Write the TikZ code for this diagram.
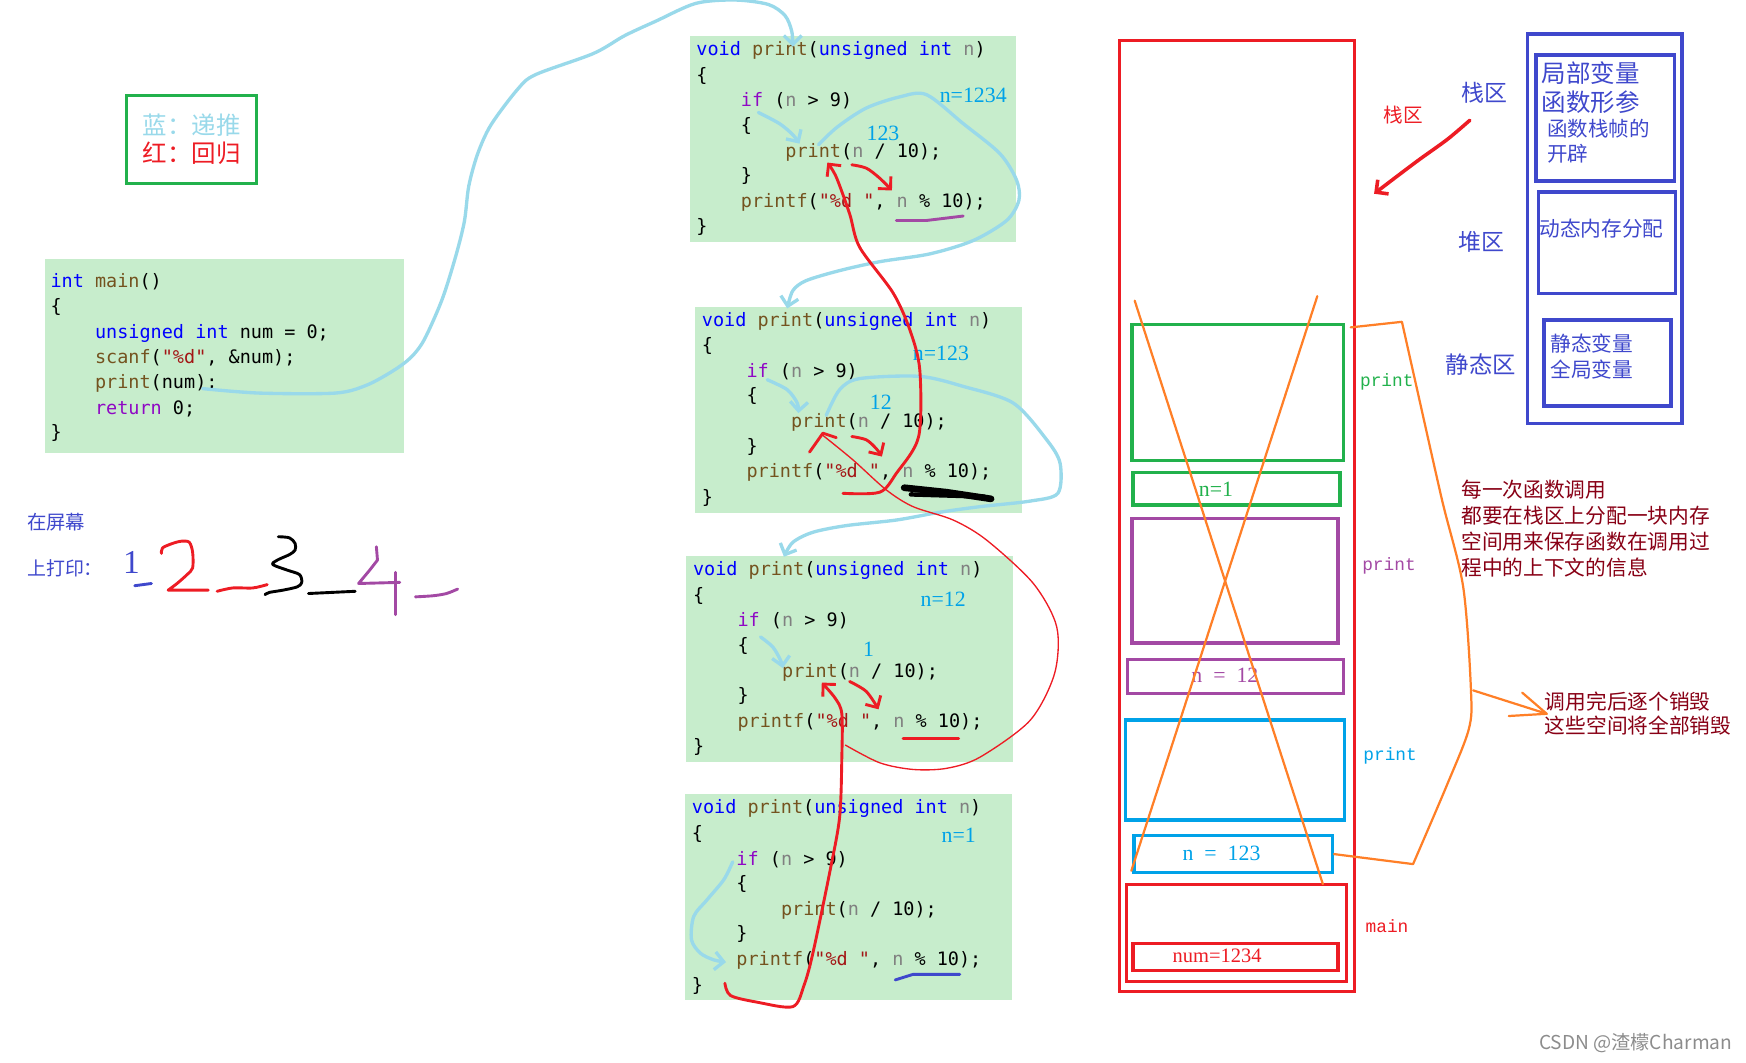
\documentclass[tikz,border=0pt]{standalone}
\usepackage{fontspec}
\setmainfont{Liberation Serif}
\setmonofont{DejaVu Sans Mono}
\newfontfamily\cjk{Noto Sans CJK SC}
\newfontfamily\stackmono{Liberation Mono}
\usetikzlibrary{arrows.meta}

% editor colours
\definecolor{codebg}{RGB}{199,237,204}
\definecolor{kwblue}{RGB}{0,0,255}
\definecolor{fnbrown}{RGB}{116,83,31}
\definecolor{pargray}{RGB}{128,128,128}
\definecolor{strred}{RGB}{163,21,21}
\definecolor{ctlpurple}{RGB}{143,8,196}
% paint colours
\definecolor{skyline}{RGB}{153,217,234}
\definecolor{nblue}{RGB}{0,162,232}
\definecolor{pred}{RGB}{237,28,36}
\definecolor{pgreen}{RGB}{34,177,76}
\definecolor{ppurple}{RGB}{163,73,164}
\definecolor{porange}{RGB}{255,127,39}
\definecolor{pindigo}{RGB}{63,72,204}
\definecolor{pdarkred}{RGB}{136,0,21}

\newcommand{\codefont}{\fontsize{8.3}{10}\ttfamily}
\newcommand{\cKw}[1]{\textcolor{kwblue}{#1}}
\newcommand{\cFn}[1]{\textcolor{fnbrown}{#1}}
\newcommand{\cPar}[1]{\textcolor{pargray}{#1}}
\newcommand{\cStr}[1]{\textcolor{strred}{#1}}
\newcommand{\cCtl}[1]{\textcolor{ctlpurple}{#1}}

\tikzset{
  codebox/.style={fill=codebg, inner sep=0pt, anchor=north west},
  code/.style={font=\codefont, inner sep=0pt, anchor=base west},
  nlabel/.style={font=\fontsize{9.8}{11}\selectfont, text=nblue, inner sep=0pt},
  skystroke/.style={draw=skyline, line width=1.5pt, line cap=round, line join=round},
  redstroke/.style={draw=pred, line width=1.3pt, line cap=round, line join=round},
  thinred/.style={draw=pred, line width=0.6pt},
  barb/.style={-{Straight Barb[length=4pt,width=8pt]}},
  frame/.style={draw, line width=1.5pt, inner sep=0pt, anchor=north west},
  vallabel/.style={font=\fontsize{9.8}{11}\selectfont, inner sep=0pt},
  slot/.style={font=\stackmono\fontsize{8}{10}\selectfont, inner sep=0pt, anchor=west},
  cjknote/.style={font=\cjk\fontsize{9.3}{11.7}\selectfont, inner sep=0pt, anchor=west, align=left},
  orangeline/.style={draw=porange, line width=1pt, line cap=round, line join=round},
  digit/.style={line width=1.3pt, line cap=round, line join=round},
}

\begin{document}
\begin{tikzpicture}[x=0.5pt,y=-0.5pt]
  \useasboundingbox (0,0) rectangle (1568,954);

  % Legend
  \node[draw=pgreen, line width=1.5pt, anchor=north west, minimum width=58.5pt,
        minimum height=39.5pt, inner sep=0pt] (legend) at (112,84) {};
  \node[font=\cjk\fontsize{11}{13}\selectfont, inner sep=0pt, align=left] (legendtext)
       at (legend.center) {\textcolor{skyline}{蓝：递推}\\\textcolor{pred}{红：回归}};

  % main()
  \node[codebox, minimum width=161pt, minimum height=87pt] (mainframe) at (40,232) {};
  \node[code] (mainhead) at (45,258) {\cKw{int} \cFn{main}()};
  \node[code] (mainopen) at (45,281) {\{};
  \node[code] (maindecl) at (85,304) {\cKw{unsigned} \cKw{int} num = 0;};
  \node[code] (mainscan) at (85,326) {\cFn{scanf}(\cStr{"\%d"}, \&num);};
  \node[code] (maincall) at (85,349) {\cFn{print}(num);};
  \node[code] (mainret) at (85,372) {\cCtl{return} 0;};
  \node[code] (mainclose) at (45,394) {\}};

  % The four frames of print(), top to bottom
  \foreach \n/\bx/\by in {1/619/32, 2/624/275, 3/616/499, 4/615/713}{
    \node[codebox, minimum width=146.5pt, minimum height=92.5pt] (frame\n) at (\bx,\by) {};
    \node[code] (head\n) at (\bx+6,\by+18) {\cKw{void} \cFn{print}(\cKw{unsigned} \cKw{int} \cPar{n})};
    \node[code] (open\n) at (\bx+6,\by+41) {\{};
    \node[code] (test\n) at (\bx+46,\by+64) {\cCtl{if} (\cPar{n} > 9)};
    \node[code] (inopen\n) at (\bx+46,\by+86) {\{};
    \node[code] (call\n) at (\bx+86,\by+109) {\cFn{print}(\cPar{n} / 10);};
    \node[code] (inclose\n) at (\bx+46,\by+131) {\}};
    \node[code] (out\n) at (\bx+46,\by+154) {\cFn{printf}(\cStr{"\%d "}, \cPar{n} \% 10);};
    \node[code] (close\n) at (\bx+6,\by+177) {\}};
  }

  % value of n in each frame, and the value handed on
  \foreach \n/\lx/\ly/\txt in {1/874/86/n=1234, 2/845/317/n=123, 3/847/538/n=12, 4/861/750/n=1}{
    \node[nlabel] (nval\n) at (\lx,\ly) {\txt};
  }
  \foreach \n/\lx/\ly/\txt in {1/793/120/123, 2/791/361/12, 3/780/583/1}{
    \node[nlabel] (quot\n) at (\lx,\ly) {\txt};
  }

  % blue: going down
  \draw[skystroke, barb] plot[smooth] coordinates {(182,349) (233,353) (301,353) (329,346)
    (353,333) (369,321) (381,305) (397,269) (409,231) (417,199) (421,167) (429,138)
    (441,112) (465,80) (481,67) (533,48) (561,32) (589,19) (625,3) (660,0) (690,4)
    (705,14) (711,28) (712,42)};
  \draw[skystroke, barb] plot[smooth] coordinates {(681,101) (700,111) (712,121) (718,129)};
  \draw[skystroke, barb] plot[smooth] coordinates {(735,130) (752,114) (778,97) (808,87)
    (832,85) (865,111) (898,138) (913,162) (915,180) (904,198) (874,216) (835,228)
    (790,235) (754,243) (724,252) (712,261) (707,277)};
  \draw[skystroke, barb] plot[smooth] coordinates {(689,341) (707,350) (716,362) (717,371)};
  \draw[skystroke, barb] plot[smooth] coordinates {(742,373) (754,350) (772,340) (826,338)
    (865,347) (910,362) (940,395) (952,416) (950,443) (925,450) (880,455) (844,460)
    (805,467) (760,472) (730,478) (712,487) (704,500)};
  \draw[skystroke, barb] plot[smooth] coordinates {(683,572) (694,581) (701,593) (703,600)};
  \draw[skystroke, barb] plot[smooth] coordinates {(658,774) (650,790) (635,808) (623,823)
    (621,844) (629,856) (641,862) (652,864)};

  % red: coming back
  \draw[redstroke, barb] plot[smooth] coordinates {(757,443) (790,442) (805,425) (825,392)
    (826,332) (817,296) (802,263) (772,222) (763,192) (751,159) (743,146)};
  \draw[redstroke, barb] plot[smooth] coordinates {(765,148) (778,151) (790,160) (801,171)};
  \draw[thinred] plot[smooth] coordinates {(759,669) (790,685) (820,691) (850,690) (880,680)
    (925,647) (947,605) (949,563) (928,524) (886,485) (856,467) (820,455) (796,440)
    (766,413) (739,391)};
  \draw[redstroke] (727,406) -- (739,389) -- (751,393);
  \draw[redstroke, barb] plot[smooth] coordinates {(765,392) (778,395) (787,403) (792,410)};
  \draw[redstroke, barb] plot[smooth] coordinates {(651,883) (656,894) (680,900) (712,904)
    (722,885) (730,856) (745,784) (754,734) (756,680) (756,641) (750,627) (738,613)};
  \draw[redstroke, barb] plot[smooth] coordinates {(763,612) (778,621) (789,637)};

  % underlined digits
  \draw[digit, ppurple] (805,198) -- (832,198) -- (865,194);
  \draw[line width=3pt, line cap=round] (812,438) -- (850,442) -- (890,448);
  \draw[line width=2pt, line cap=round] (818,444) -- (884,446);
  \draw[digit, pred] (811,663) -- (861,663);
  \draw[digit, pindigo] (804,880) -- (820,875) -- (862,875);

  % what appears on the screen
  \node[anchor=west, font=\cjk\fontsize{8.7}{11}\selectfont, text=pindigo, inner sep=0pt] (screen1) at (24,469) {在屏幕};
  \node[anchor=west, font=\cjk\fontsize{8.5}{11}\selectfont, text=pindigo, inner sep=0pt] (screen2) at (24,510) {上打印：};
  \node[font=\fontsize{15}{17}\selectfont, text=pindigo, inner sep=0pt] (one) at (118,505) {1};
  \draw[digit, pindigo] (121,526) -- (136,524);
  \draw[digit, pred] plot[smooth, tension=0.5] coordinates {(145,497) (146,492) (155,488)
    (163,486) (170,487) (173,496) (173,510) (168,516) (159,524) (151,530)} -- (187,530);
  \draw[digit, pred] plot[smooth] coordinates {(195,531) (209,528) (227,528) (240,525)};
  \draw[digit] plot[smooth, tension=0.5] coordinates {(250,482) (260,483) (265,488) (265,494)
    (260,498) (249,503) (245,507) (258,512) (269,516) (271,523) (267,527) (254,530)
    (242,532) (238,534)};
  \draw[digit] (277,533) -- (319,531);
  \draw[digit, ppurple] (338,491) -- (339,503) -- (332,512) -- (322,524) -- (359,523);
  \draw[digit, ppurple] (355,514) -- (355,552);
  \draw[digit, ppurple] plot[smooth] coordinates {(373,536) (389,535) (401,533) (411,529)};

  % Stack area
  \node[frame, draw=pred, minimum width=105.5pt, minimum height=427pt] (stack) at (1004,35) {};
  \foreach \name/\col/\fx/\fy/\fw/\fh in {fr1/pgreen/1015/290/95/61, fr1n/pgreen/1016/423/93/14.5,
      fr2/ppurple/1015/464/92.5/56, fr2n/ppurple/1011/591/97/15,
      fr3/nblue/1009/645/98.5/45, fr3n/nblue/1017/749/89/16.5,
      fr4/pred/1010/793/99/43.5, fr4n/pred/1016/846/92/12}{
    \node[frame, draw=\col, minimum width=\fw pt, minimum height=\fh pt] (\name) at (\fx,\fy) {};
  }
  \node[vallabel, text=pgreen] (v1) at (1092,439) {n=1};
  \node[vallabel, text=ppurple] (v2) at (1100,606) {n\enspace=\enspace12};
  \node[vallabel, text=nblue] (v3) at (1097,766) {n\enspace=\enspace123};
  \node[vallabel, text=pred, font=\fontsize{9.2}{11}\selectfont] (v4) at (1093,858) {num=1234};
  \node[slot, text=pgreen] (s1) at (1221,343) {print};
  \node[slot, text=ppurple] (s2) at (1223,508) {print};
  \node[slot, text=nblue] (s3) at (1224,679) {print};
  \node[slot, text=pred] (s4) at (1226,832) {main};

  % the crossed out frames and the bracket
  \draw[orangeline] (1019,270) -- (1188,794);
  \draw[orangeline] (1183,266) -- (1016,782);
  \draw[orangeline] (1213,294) -- (1259,289) -- plot[smooth] coordinates {(1259,289) (1272,347)
    (1295,449) (1314,527) (1321,620) (1319,655) (1299,706) (1269,776)} -- (fr3n.east);
  \draw[orangeline] (1323,620) -- (1389,641);
  \draw[orangeline] (1367,622) -- (1389,641) -- (1355,643);

  % notes
  \node[font=\cjk\fontsize{8.8}{11}\selectfont, text=pred, inner sep=0pt] (stacktag) at (1260,103) {栈区};
  \draw[redstroke, line width=1.6pt, barb] plot[smooth] coordinates {(1320,108) (1300,125)
    (1275,143) (1255,158) (1234,174)};
  \node[cjknote, text=pdarkred] (note1) at (1312,475)
       {每一次函数调用\\都要在栈区上分配一块内存\\空间用来保存函数在调用过\\程中的上下文的信息};
  \node[cjknote, text=pdarkred, font=\cjk\fontsize{9.3}{11}\selectfont] (note2) at (1387,641)
       {调用完后逐个销毁\\这些空间将全部销毁};

  % Memory map
  \node[frame, draw=pindigo, minimum width=69.5pt, minimum height=175pt] (memory) at (1370,29) {};
  \node[frame, draw=pindigo, minimum width=62pt, minimum height=56.5pt] (stackzone) at (1378,48) {};
  \node[frame, draw=pindigo, minimum width=61.5pt, minimum height=45.5pt] (heapzone) at (1380,171) {};
  \node[frame, draw=pindigo, minimum width=57pt, minimum height=38.5pt] (staticzone) at (1385,286) {};
  \node[cjknote, text=pindigo, font=\cjk\fontsize{11}{13}\selectfont] (z1a) at (1384,79) {局部变量\\函数形参};
  \node[cjknote, text=pindigo, font=\cjk\fontsize{9.2}{11}\selectfont] (z1b) at (1389,127) {函数栈帧的\\开辟};
  \node[cjknote, text=pindigo, font=\cjk\fontsize{9.3}{11}\selectfont] (z2) at (1382,205) {动态内存分配};
  \node[cjknote, text=pindigo, font=\cjk\fontsize{9.3}{11.5}\selectfont] (z3) at (1392,320) {静态变量\\全局变量};
  \node[font=\cjk\fontsize{10.3}{12}\selectfont, text=pindigo, inner sep=0pt] (zn1) at (1333,83) {栈区};
  \node[font=\cjk\fontsize{10.3}{12}\selectfont, text=pindigo, inner sep=0pt] (zn2) at (1330,217) {堆区};
  \node[font=\cjk\fontsize{10.5}{12}\selectfont, text=pindigo, inner sep=0pt] (zn3) at (1330,327) {静态区};

  % watermark
  \node[anchor=east, text=black!45, font=\cjk\fontsize{8.6}{10}\selectfont, inner sep=0pt] (mark) at (1556,937) {CSDN @渣檬Charman};
\end{tikzpicture}
\end{document}
